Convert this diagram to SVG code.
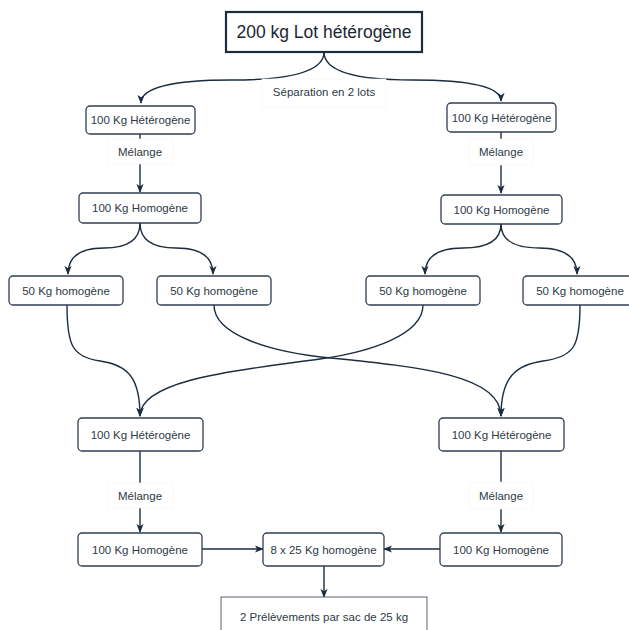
<svg xmlns="http://www.w3.org/2000/svg" width="629" height="630" viewBox="0 0 629 630">
<defs>
<style>
.box{fill:#ffffff;stroke:#2f3f51;stroke-width:1.3}
.main{fill:#ffffff;stroke:#1c2d40;stroke-width:2.2}
.plain{fill:#ffffff;stroke:#5a6470;stroke-width:1}
.t{font-family:"Liberation Sans",Arial,sans-serif;font-size:11.5px;fill:#2e3a46;text-anchor:middle}
.tb{font-family:"Liberation Sans",Arial,sans-serif;font-size:17.5px;fill:#1c2733;text-anchor:middle}
.c{fill:none;stroke:#1c2d40;stroke-width:1.4;marker-end:url(#ah)}
.lbg{fill:#ffffff;stroke:#f3f3f3;stroke-width:0.6}
</style>
<marker id="ah" viewBox="0 0 10 10" refX="9" refY="5" markerWidth="9" markerHeight="9" markerUnits="userSpaceOnUse" orient="auto">
<path d="M0,1 L10,5 L0,9 L2.5,5 z" fill="#1c2d40"/>
</marker>
</defs>
<rect width="629" height="630" fill="#ffffff"/>

<g id="connectors">
<path class="c" d="M324,52 Q324,80 232,80 Q141,80 141,103"/>
<path class="c" d="M324,52 Q324,80 412,80 Q501,80 501,101"/>
<rect class="lbg" x="262" y="79" width="124" height="28"/>
<text class="t" x="324" y="96">Séparation en 2 lots</text>

<path class="c" d="M140,134 L140,192"/>
<rect class="lbg" x="108" y="139" width="65" height="25"/>
<text class="t" x="140" y="156">Mélange</text>
<path class="c" d="M501,132 L501,193"/>
<rect class="lbg" x="469" y="139" width="64" height="26"/>
<text class="t" x="501" y="156">Mélange</text>

<path class="c" d="M140,223 Q140,248 104,248 Q68,248 68,274"/>
<path class="c" d="M140,223 Q140,248 176,248 Q213,248 213,274"/>
<path class="c" d="M501,224 Q501,248 463,248 Q425,248 425,274"/>
<path class="c" d="M501,224 Q501,248 539,248 Q577,248 577,274"/>

<path class="c" d="M67,305 C67,345 72,357 100,361 C128,365 140,378 140,416"/>
<path class="c" d="M214,305 C214,335 270,352 330,358 C420,367 501,375 501,416"/>
<path class="c" d="M423,305 C423,335 370,352 320,359 C250,369 140,378 140,416"/>
<path class="c" d="M580,305 C580,345 575,357 543,361 C515,365 501,378 501,416"/>

<path class="c" d="M140,451 L140,532"/>
<rect class="lbg" x="108" y="483" width="65" height="25"/>
<text class="t" x="140" y="500">Mélange</text>
<path class="c" d="M501,451 L501,532"/>
<rect class="lbg" x="469" y="482" width="64" height="27"/>
<text class="t" x="501" y="500">Mélange</text>

<path class="c" d="M202,549 L263,549"/>
<path class="c" d="M440,549 L384,549"/>
<path class="c" d="M324,566 L324,597"/>
</g>

<g id="n-top"><rect class="main" x="226" y="12" width="196" height="40"/><text class="tb" x="324" y="38">200 kg Lot hétérogène</text></g>

<g id="n-het-l"><rect class="box" x="86" y="106" width="109" height="28" rx="4"/><text class="t" x="140.5" y="124">100 Kg Hétérogène</text></g>
<g id="n-het-r"><rect class="box" x="447" y="103" width="109" height="29" rx="4"/><text class="t" x="501.5" y="121.5">100 Kg Hétérogène</text></g>

<g id="n-hom-l"><rect class="box" x="79" y="193" width="122" height="30" rx="4"/><text class="t" x="140" y="212">100 Kg Homogène</text></g>
<g id="n-hom-r"><rect class="box" x="441" y="195" width="121" height="29" rx="4"/><text class="t" x="501.5" y="213.5">100 Kg Homogène</text></g>

<g id="n-50-1"><rect class="box" x="9" y="276" width="114" height="29" rx="4"/><text class="t" x="66" y="294.5">50 Kg homogène</text></g>
<g id="n-50-2"><rect class="box" x="157" y="276" width="114" height="29" rx="4"/><text class="t" x="214" y="294.5">50 Kg homogène</text></g>
<g id="n-50-3"><rect class="box" x="366" y="276" width="114" height="29" rx="4"/><text class="t" x="423" y="294.5">50 Kg homogène</text></g>
<g id="n-50-4"><rect class="box" x="523" y="276" width="114" height="29" rx="4"/><text class="t" x="580" y="294.5">50 Kg homogène</text></g>

<g id="n-het2-l"><rect class="box" x="78" y="418" width="125" height="33" rx="4"/><text class="t" x="140.5" y="438.5">100 Kg Hétérogène</text></g>
<g id="n-het2-r"><rect class="box" x="439" y="418" width="125" height="33" rx="4"/><text class="t" x="501.5" y="438.5">100 Kg Hétérogène</text></g>

<g id="n-hom2-l"><rect class="box" x="78" y="533" width="124" height="33" rx="4"/><text class="t" x="140" y="553.5">100 Kg Homogène</text></g>
<g id="n-hom2-r"><rect class="box" x="440" y="533" width="122" height="33" rx="4"/><text class="t" x="501" y="553.5">100 Kg Homogène</text></g>

<g id="n-8x25"><rect class="box" x="263" y="533" width="121" height="33" rx="4"/><text class="t" x="323.5" y="553.5">8 x 25 Kg homogène</text></g>

<g id="n-prelev"><rect class="plain" x="221" y="597" width="206" height="42"/><text class="t" x="324" y="621">2 Prélèvements par sac de 25 kg</text></g>
</svg>
